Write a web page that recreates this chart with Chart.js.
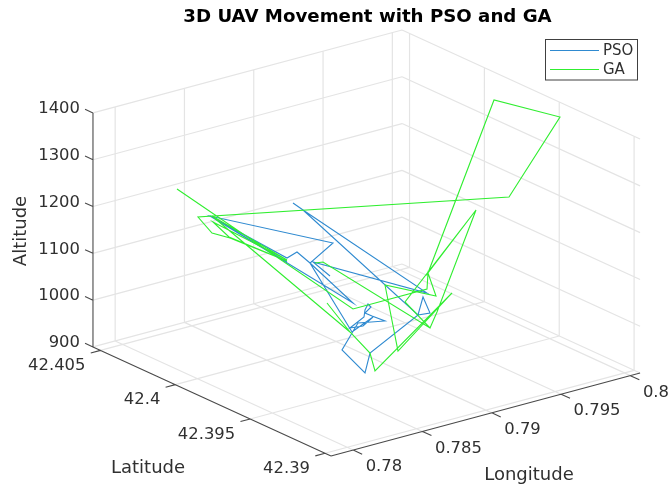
<!DOCTYPE html>
<html><head><meta charset="utf-8">
<style>html,body{margin:0;padding:0;background:#fff}canvas{display:block}</style>
<script src="https://cdn.jsdelivr.net/npm/chart.js@4"></script>
</head><body><canvas id="c" width="668" height="490"></canvas>
<script>
// Series, read in the view plane (horizontal in longitude-like units, vertical in altitude-like units)
const psoX=[.7831,.78191,.78989,.78121,.78051,.78121,.78926,.78961,.7901,.78926,.7859,.78555,.78394,.78464,.78506,.78695,.78604,.78555,.78597,.78576,.78555,.78548,.7845,.78541,.78611,.78464,.7817,.78331,.7747,.78009,.78079,.7817,.78471,.7747,.78009];
const psoY=[948,976,914,1080,1094,1080,870,906,874,870,794,754,800,834,854,858,868,874,886,892,880,866,844,848,866,836,974,1014,1068,984,996,974,894,1068,976];
const gaX=[.77239,.78471,.78989,.78996,.79052,.78695,.78786,.79164,.78625,.7859,.7845,.78289,.7845,.77484,.78009,.77491,.77603,.78009,.77869,.7761,.77484,.77386,.79563,.7992,.79458,.78996,.79332,.78835,.7901,.79059,.79332,.79059,.7901,.78261,.78205];
const gaY=[1122,882,922,954,908,930,798,914,758,794,836,894,836,1068,980,1056,1026,978,994,1024,1034,1066,1106,1266,1300,954,1080,896,844,876,1080,876,844,976,974];
const lonTicks=[0.78,0.785,0.79,0.795,0.8];
const latTicks=[42.39,42.395,42.4,42.405];
const altTicks=[900,1000,1100,1200,1300,1400];
const lonTickLabels=['0.78','0.785','0.79','0.795','0.8'];
const latTickLabels=['42.39','42.395','42.4','42.405'];
const altTickLabels=['900','1000','1100','1200','1300','1400'];
const lonRange=[0.7784,0.8007], latRange=[42.3896,42.4055], altRange=[900,1400];
const seriesNames=['PSO','GA'];
const seriesColors=['#2f8ad0','#30ee30'];

// Orthographic view of the 3D axes box, returned in view-plane scale units
function view(lon,lat,alt){
  const dLon=lon-lonRange[0], dLat=lat-latRange[0], dAlt=alt-altRange[0];
  const h=331+dLon*13860-dLat*14970;
  const v=456-dLon*3720-dLat*6860-dAlt*0.468;
  return {x:0.76+h*0.00007,y:1500-v*2};
}
const gap={x:NaN,y:NaN};
const [lo0,lo1]=lonRange,[la0,la1]=latRange,[al0,al1]=altRange;
const grid=[];
function seg(a,b){grid.push(view(...a),view(...b),gap);}
lonTicks.forEach(t=>{seg([t,la1,al0],[t,la1,al1]);seg([t,la0,al0],[t,la1,al0]);});
latTicks.forEach(t=>{seg([lo1,t,al0],[lo1,t,al1]);seg([lo0,t,al0],[lo1,t,al0]);});
altTicks.forEach(t=>{seg([lo0,la1,t],[lo1,la1,t]);seg([lo1,la1,t],[lo1,la0,t]);});
const axes=[];
function aseg(a,b){axes.push(view(...a),view(...b),gap);}
aseg([lo0,la1,al0],[lo0,la1,al1]);aseg([lo0,la1,al0],[lo0,la0,al0]);aseg([lo0,la0,al0],[lo1,la0,al0]);
altTicks.forEach(t=>aseg([lo0,la1,t],[lo0,la1+0.00053,t]));
latTicks.forEach(t=>aseg([lo0,t,al0],[lo0-0.0007,t,al0]));
lonTicks.forEach(t=>aseg([t,la0,al0],[t,la0-0.0006,al0]));

const zip=(xs,ys)=>xs.map((x,i)=>({x,y:ys[i]}));
const lineSet=(label,data,color,order,w)=>({label,data,borderColor:color,borderWidth:w,showLine:true,pointRadius:0,fill:false,tension:0,spanGaps:false,order});

const FONT='"DejaVu Sans"',INK='#303030';
const overlay={id:'overlay',afterDraw(ch){
  const g=ch.ctx,sx=ch.scales.x,sy=ch.scales.y;
  const P=(lon,lat,alt)=>{const p=view(lon,lat,alt);return [sx.getPixelForValue(p.x),sy.getPixelForValue(p.y)];};
  g.save();g.fillStyle=INK;g.textBaseline='middle';
  g.font='16.4px '+FONT;
  g.textAlign='right';
  altTicks.forEach((t,i)=>{const [a,b]=P(lo0,la1,t);g.fillText(altTickLabels[i],a-13,b-4);});
  latTicks.forEach((t,i)=>{const [a,b]=P(lo0,t,al0);g.fillText(latTickLabels[i],a-15,b+15.5);});
  g.textAlign='left';
  lonTicks.forEach((t,i)=>{const [a,b]=P(t,la0,al0);g.fillText(lonTickLabels[i],a+12.5,b+17);});
  g.textAlign='center';g.font='18px '+FONT;
  g.fillText('Latitude',148,468);g.fillText('Longitude',529,475);
  g.save();g.translate(21,231);g.rotate(-Math.PI/2);g.fillText('Altitude',0,0);g.restore();
  g.fillStyle='#000';g.font='bold 18.2px '+FONT;g.fillText('3D UAV Movement with PSO and GA',367.5,17);
  // legend
  g.fillStyle='#fff';g.strokeStyle='#404040';g.lineWidth=1;
  g.fillRect(545.5,39.5,92,40.5);g.strokeRect(545.5,39.5,92,40.5);
  g.textAlign='left';g.font='15px '+FONT;
  g.lineWidth=1.2;
  [50.5,69.5].forEach((y,i)=>{g.strokeStyle=seriesColors[i];g.beginPath();g.moveTo(550,y);g.lineTo(599,y);g.stroke();
    g.fillStyle=INK;g.fillText(seriesNames[i],603,y+0.5);});
  g.restore();
}};

new Chart(document.getElementById('c'),{
  type:'scatter',
  data:{datasets:[
    lineSet('GA',zip(gaX,gaY),seriesColors[1],1,1.1),
    lineSet('PSO',zip(psoX,psoY),seriesColors[0],2,1.1),
    lineSet('axes',axes,'#4a4a4a',3,1.1),
    lineSet('grid',grid,'#e4e4e4',4,1.2)
  ]},
  options:{responsive:false,animation:false,devicePixelRatio:1,
    layout:{padding:0},
    plugins:{legend:{display:false},title:{display:false},tooltip:{enabled:false}},
    scales:{
      x:{type:'linear',display:false,min:0.76,max:0.76+668*0.00007},
      y:{type:'linear',display:false,min:1500-490*2,max:1500}
    }},
  plugins:[overlay]
});
</script></body></html>
